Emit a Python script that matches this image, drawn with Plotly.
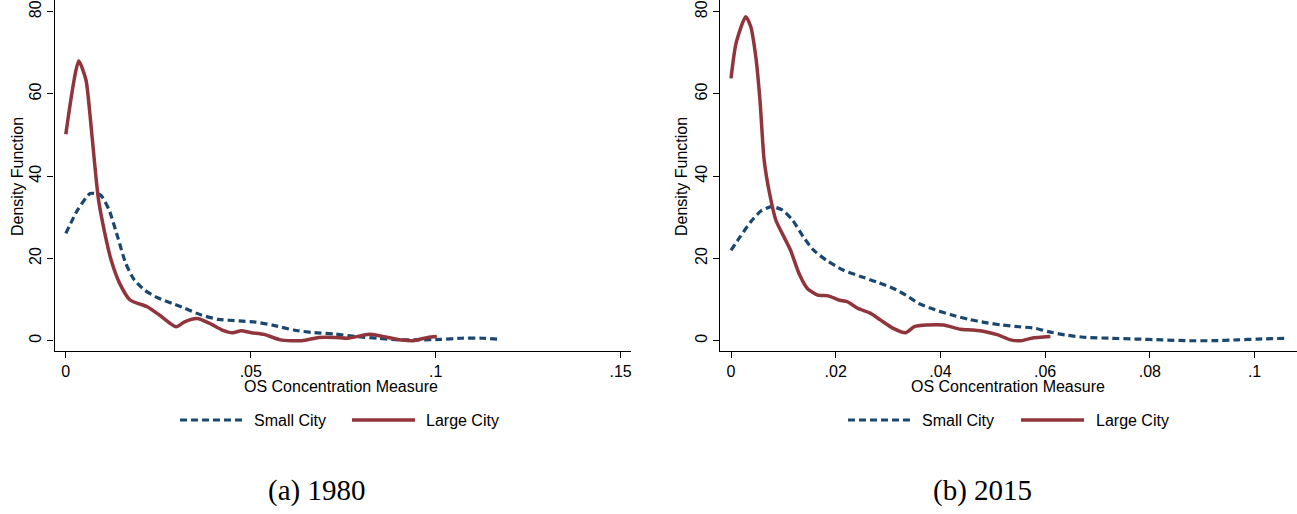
import plotly.graph_objects as go

# ---- Data ----
# Panel (a) 1980
x_small_1980 = [0.0, 0.0032, 0.0066, 0.0094, 0.0117, 0.0140, 0.0162, 0.0185, 0.0213, 0.0247, 0.0287,
                0.0321, 0.0366, 0.0412, 0.0468, 0.0514, 0.0559, 0.0616, 0.0672, 0.0729, 0.0786,
                0.0843, 0.0899, 0.0956, 0.1013, 0.1069, 0.1126, 0.1166]
y_small_1980 = [26.1, 31.8, 35.8, 35.4, 31.8, 25.3, 18.8, 14.8, 12.3, 10.5, 9.1,
                7.9, 6.25, 5.2, 4.8, 4.5, 3.8, 2.6, 1.95, 1.6, 1.0,
                0.6, 0.2, 0.2, 0.3, 0.6, 0.6, 0.4]
x_large_1980 = [0.0, 0.0035, 0.00545, 0.00658, 0.0077, 0.00885, 0.01055, 0.01225, 0.01452, 0.01736,
                0.0219, 0.0253, 0.0298, 0.0321, 0.0355, 0.0389, 0.0423, 0.0451, 0.0474, 0.0502,
                0.0536, 0.0580, 0.0638, 0.0684, 0.0729, 0.0763, 0.0820, 0.0854, 0.0910, 0.0939,
                0.0979, 0.1003]
y_large_1980 = [50.2, 68.0, 63.4, 54.5, 43.9, 34.2, 26.1, 19.6, 14.0, 9.9,
                8.3, 6.25, 3.4, 4.6, 5.4, 4.2, 2.6, 1.95, 2.4, 1.95,
                1.55, 0.2, 0.0, 0.8, 0.8, 0.6, 1.55, 1.1, 0.15, 0.0,
                0.8, 1.0]

# Panel (b) 2015
x_small_2015 = [0.0, 0.00176, 0.00376, 0.00577, 0.00777, 0.00977, 0.01177, 0.01378, 0.01578, 0.01818,
                0.02138, 0.02459, 0.02779, 0.03099, 0.0334, 0.0358, 0.039, 0.0422, 0.0454, 0.0486,
                0.0518, 0.055, 0.0582, 0.0606, 0.0638, 0.0678, 0.0726, 0.0774, 0.0823, 0.0871,
                0.0919, 0.0967, 0.1007, 0.1059]
y_small_2015 = [22.0, 25.3, 28.9, 31.6, 32.6, 31.8, 29.3, 25.3, 22.0, 19.6,
                17.2, 15.7, 14.3, 12.7, 11.1, 9.1, 7.5, 6.25, 5.2, 4.4,
                3.8, 3.4, 3.0, 2.2, 1.4, 0.8, 0.6, 0.4, 0.2, 0.0,
                0.0, 0.2, 0.4, 0.6]
x_large_2015 = [0.0, 0.00096, 0.0028, 0.00376, 0.00473, 0.00553, 0.00633, 0.00737, 0.00857, 0.00977,
                0.01137, 0.01297, 0.01458, 0.01658, 0.01858, 0.02058, 0.02218, 0.02419, 0.02659, 0.02859,
                0.03099, 0.0334, 0.035, 0.0374, 0.0406, 0.0438, 0.0462, 0.0486, 0.051, 0.0534,
                0.0554, 0.0574, 0.061]
y_large_2015 = [63.8, 72.3, 78.8, 76.4, 69.1, 58.5, 43.9, 35.8, 29.3, 26.1,
                22.0, 16.4, 12.7, 11.1, 10.9, 9.9, 9.5, 7.9, 6.7, 5.0,
                3.0, 1.95, 3.4, 3.8, 3.8, 2.8, 2.6, 2.2, 1.4, 0.2,
                0.0, 0.6, 1.0]

series_names = ["Small City", "Large City"]
captions = ["(a) 1980", "(b) 2015"]
x_ticks_a = [0, 0.05, 0.1, 0.15]
x_ticklabels_a = ["0", ".05", ".1", ".15"]
x_ticks_b = [0, 0.02, 0.04, 0.06, 0.08, 0.1]
x_ticklabels_b = ["0", ".02", ".04", ".06", ".08", ".1"]
y_ticks = [0, 20, 40, 60, 80]
y_ticklabels = ["0", "20", "40", "60", "80"]
x_title = "OS Concentration Measure"
y_title = "Density Function"

# ---- Styling ----
W, H = 1297, 514
BLUE = "#1a476f"
RED = "#90353b"
FONT = "Liberation Sans"
SERIF = "Liberation Serif"
FS = 16

fig = go.Figure()

def add_pair(xs, ys, xl, yl, xa, ya):
    fig.add_trace(go.Scatter(x=xs, y=ys, mode="lines", name=series_names[0],
                             line=dict(color=BLUE, width=3.2, dash="7px,4px", shape="spline", smoothing=0.6),
                             xaxis=xa, yaxis=ya, showlegend=False))
    fig.add_trace(go.Scatter(x=xl, y=yl, mode="lines", name=series_names[1],
                             line=dict(color=RED, width=3.5, shape="spline", smoothing=0.6),
                             xaxis=xa, yaxis=ya, showlegend=False))

add_pair(x_small_1980, y_small_1980, x_large_1980, y_large_1980, "x", "y")
add_pair(x_small_2015, y_small_2015, x_large_2015, y_large_2015, "x2", "y2")

def px_x(p):
    return p / W

def px_y(p):
    return 1 - p / H

ydom = [px_y(350.7), 1.0]
common_axis = dict(showgrid=False, zeroline=False, showline=True, linecolor="#000000", linewidth=1.2,
                   ticks="outside", ticklen=6, tickwidth=1.2, tickcolor="#000000",
                   tickfont=dict(family=FONT, size=FS, color="#000000"), automargin=False)

fig.update_layout(
    width=W, height=H,
    margin=dict(l=0, r=0, t=0, b=0),
    paper_bgcolor="white", plot_bgcolor="white",
    showlegend=False,
    xaxis=dict(domain=[px_x(54.5), px_x(631)], range=[-0.00306, 0.1528],
               tickvals=x_ticks_a, ticktext=x_ticklabels_a, anchor="y", **common_axis),
    yaxis=dict(domain=ydom, range=[-2.43, 82.85], tickvals=y_ticks, ticktext=y_ticklabels,
               tickangle=-90, anchor="x", **common_axis),
    xaxis2=dict(domain=[px_x(720.4), 1.0], range=[-0.002025, 0.1081],
                tickvals=x_ticks_b, ticktext=x_ticklabels_b, anchor="y2", **common_axis),
    yaxis2=dict(domain=ydom, range=[-2.43, 82.85], tickvals=y_ticks, ticktext=y_ticklabels,
                tickangle=-90, anchor="x2", **common_axis),
)

annotations = []
shapes = []

panels = [
    dict(xt=341, yt_x=17, legend=(180, 242, 252, 352, 415, 424), cap=316.5),
    dict(xt=1008, yt_x=681, legend=(848, 910, 920, 1021, 1084, 1094), cap=982),
]
for i, p in enumerate(panels):
    annotations.append(dict(text=x_title, x=px_x(p["xt"]), y=px_y(386), xref="paper", yref="paper",
                            showarrow=False, xanchor="center", yanchor="middle",
                            font=dict(family=FONT, size=FS, color="#000000")))
    annotations.append(dict(text=y_title, x=px_x(p["yt_x"]), y=px_y(177), xref="paper", yref="paper",
                            showarrow=False, xanchor="center", yanchor="middle", textangle=-90,
                            font=dict(family=FONT, size=FS, color="#000000")))
    d0, d1, t1, s0, s1, t2 = p["legend"]
    ly = px_y(420)
    shapes.append(dict(type="line", xref="paper", yref="paper", x0=px_x(d0), x1=px_x(d1), y0=ly, y1=ly,
                       line=dict(color=BLUE, width=3.2, dash="7px,4px")))
    shapes.append(dict(type="line", xref="paper", yref="paper", x0=px_x(s0), x1=px_x(s1), y0=ly, y1=ly,
                       line=dict(color=RED, width=3.5)))
    annotations.append(dict(text=series_names[0], x=px_x(t1), y=ly, xref="paper", yref="paper",
                            showarrow=False, xanchor="left", yanchor="middle",
                            font=dict(family=FONT, size=FS, color="#000000")))
    annotations.append(dict(text=series_names[1], x=px_x(t2), y=ly, xref="paper", yref="paper",
                            showarrow=False, xanchor="left", yanchor="middle",
                            font=dict(family=FONT, size=FS, color="#000000")))
    annotations.append(dict(text=captions[i], x=px_x(p["cap"]), y=px_y(490), xref="paper", yref="paper",
                            showarrow=False, xanchor="center", yanchor="middle",
                            font=dict(family=SERIF, size=29, color="#000000")))

fig.update_layout(annotations=annotations, shapes=shapes)

fig.write_html("out.html")
